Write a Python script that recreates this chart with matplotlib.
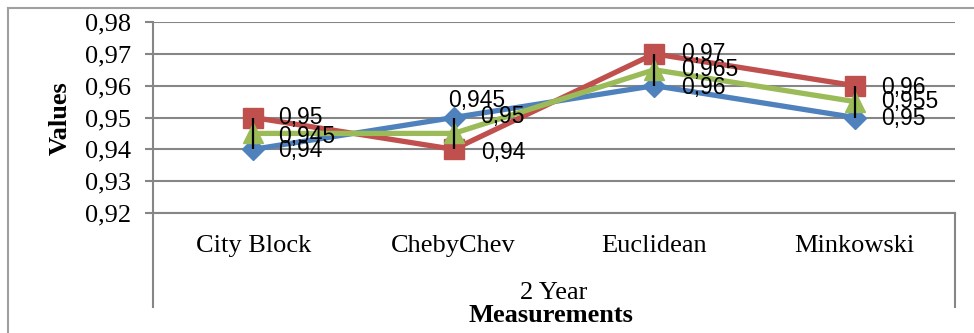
import matplotlib
matplotlib.use("Agg")
import matplotlib.pyplot as plt
from matplotlib.lines import Line2D
from matplotlib.ticker import FuncFormatter

categories = ["City Block", "ChebyChev", "Euclidean", "Minkowski"]
group_label = "2 Year"
blue_vals = [0.94, 0.95, 0.96, 0.95]
red_vals = [0.95, 0.94, 0.97, 0.96]
green_vals = [0.945, 0.945, 0.965, 0.955]
y_ticks = [0.92, 0.93, 0.94, 0.95, 0.96, 0.97, 0.98]

W, H = 974, 333
fig = plt.figure(figsize=(W / 100, H / 100), dpi=100)


def px(x, y):
    # pixel position (from top-left) -> figure fraction
    return x / W, 1 - y / H


left, right, top, bottom = 153, 955, 22, 213
ax = fig.add_axes([left / W, 1 - bottom / H, (right - left) / W, (bottom - top) / H])

grid_col = "#868686"
serif = "Liberation Serif"
lab_font = dict(family="Liberation Sans", size=16.5, color="black")

x = list(range(len(categories)))
series = [
    (blue_vals, "#4F81BD", "D", 11),
    (red_vals, "#C0504D", "s", 14.5),
    (green_vals, "#9BBB59", "^", 14.5),
]
for vals, col, mk, ms in series:
    ax.plot(x, vals, color=col, lw=3.8, marker=mk, ms=ms, mec=col, mfc=col,
            solid_joinstyle="round", zorder=3)

# high-low lines
lo = [min(v) for v in zip(blue_vals, red_vals, green_vals)]
hi = [max(v) for v in zip(blue_vals, red_vals, green_vals)]
ax.vlines(x, lo, hi, color="black", lw=1.6, zorder=5)


def fmt(v):
    return f"{v:g}".replace(".", ",")


# data labels (offsets in points)
offsets = {
    "blue": [(18, -1), (19, 1), (19, -1), (19, -1)],
    "red": [(18, 0), (20, -2), (19, 0), (19, -1)],
    "green": [(18, -2), (-4, 24), (19, 0), (19, 0)],
}
for key, vals in (("blue", blue_vals), ("red", red_vals), ("green", green_vals)):
    for i, v in enumerate(vals):
        dx, dy = offsets[key][i]
        ax.annotate(fmt(v), (i, v), xytext=(dx, dy), textcoords="offset points",
                    ha="left", va="center", zorder=6, **lab_font)

ax.set_xlim(-0.5, len(categories) - 0.5)
ax.set_ylim(y_ticks[0], y_ticks[-1])
ax.set_yticks(y_ticks)
ax.yaxis.set_major_formatter(FuncFormatter(lambda v, p: f"{v:.2f}".replace(".", ",")))
ax.grid(axis="y", color=grid_col, lw=1.5, zorder=0)
ax.set_xticks(x)
ax.set_xticklabels(categories)
ax.tick_params(axis="x", length=0, pad=16)
ax.tick_params(axis="y", length=6, width=1.5, color=grid_col, pad=10)
for lbl in ax.get_xticklabels() + ax.get_yticklabels():
    lbl.set_fontfamily(serif)
    lbl.set_fontsize(19)
for s in ("top", "right"):
    ax.spines[s].set_visible(False)
for s in ("left", "bottom"):
    ax.spines[s].set_color(grid_col)
    ax.spines[s].set_linewidth(1.5)

# category group box
for (x0, y0), (x1, y1) in [((left, bottom), (left, 307)), ((right, bottom), (right, 307))]:
    a, b = px(x0, y0)
    c, d = px(x1, y1)
    fig.add_artist(Line2D([a, c], [b, d], color=grid_col, lw=1.5))

# chart frame
for (x0, y0), (x1, y1) in [((8, 8), (974, 8)), ((8, 8), (8, 333))]:
    a, b = px(x0, y0)
    c, d = px(x1, y1)
    fig.add_artist(Line2D([a, c], [b, d], color="#A0A0A0", lw=1.5))

fig.text(*px(554, 293), group_label, ha="center", va="center", family=serif, size=19)
fig.text(*px(551, 316), "Measurements", ha="center", va="center", family=serif,
         size=19, weight="bold")
fig.text(*px(60, 118), "Values", ha="center", va="center", family=serif,
         size=19, weight="bold", rotation=90)

fig.savefig("out.png", dpi=100)
